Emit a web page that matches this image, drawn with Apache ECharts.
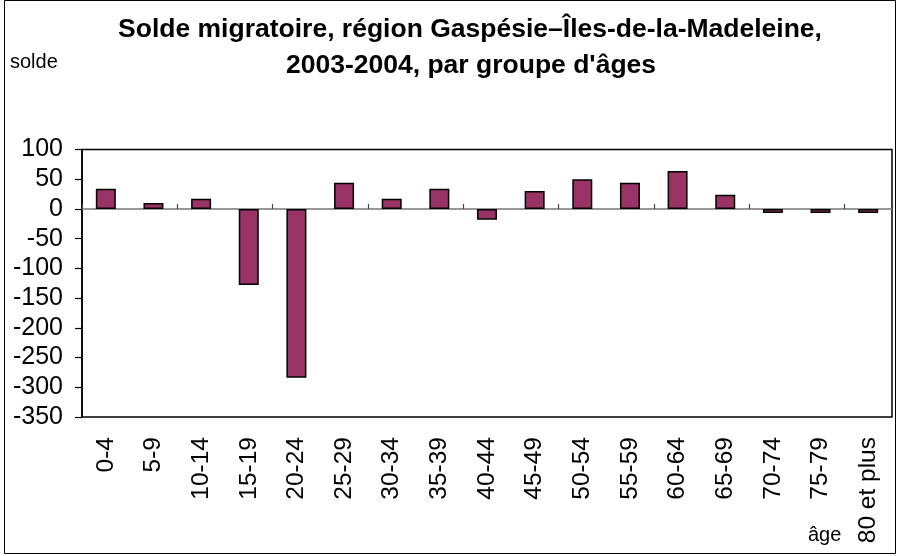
<!DOCTYPE html>
<html>
<head>
<meta charset="utf-8">
<script src="https://cdn.jsdelivr.net/npm/echarts@6/dist/echarts.min.js"></script>
<style>
  html, body { margin: 0; padding: 0; background: #fff; }
  #chart { width: 898px; height: 556px; }
</style>
</head>
<body>
<div id="chart"></div>
<script>
const categories = ['0-4', '5-9', '10-14', '15-19', '20-24', '25-29', '30-34', '35-39', '40-44',
  '45-49', '50-54', '55-59', '60-64', '65-69', '70-74', '75-79', '80 et plus']
const solde = [34, 10, 17, -128, -284, 44, 17, 34, -18, 30, 50, 44, 64, 24, -7, -7, -7]
const yMin = -350
const yMax = 100
const yStep = 50

const font = 'Arial, "Liberation Sans", sans-serif'
const chart = echarts.init(document.getElementById('chart'), null, { renderer: 'canvas' })

const option = {
  animation: false,
  backgroundColor: '#fff',
  graphic: [
    {
      type: 'rect',
      shape: { x: 4.5, y: 0.5, width: 891, height: 553 },
      style: { fill: 'none', stroke: '#000', lineWidth: 1 },
    },
    {
      type: 'text', x: 470, y: 30,
      style: {
        text: 'Solde migratoire, région Gaspésie–Îles-de-la-Madeleine,',
        font: 'bold 26.5px ' + font, fill: '#000', align: 'center', verticalAlign: 'middle',
      },
    },
    {
      type: 'text', x: 471, y: 66,
      style: {
        text: '2003-2004, par groupe d\'âges',
        font: 'bold 26.5px ' + font, fill: '#000', align: 'center', verticalAlign: 'middle',
      },
    },
    {
      type: 'text', x: 10, y: 62,
      style: { text: 'solde', font: '20px ' + font, fill: '#000', verticalAlign: 'middle' },
    },
    {
      type: 'text', x: 808, y: 535,
      style: { text: 'âge', font: '20px ' + font, fill: '#000', verticalAlign: 'middle' },
    },
  ],
  grid: { left: 82, right: 6, top: 149.5, bottom: 139, show: true, borderColor: '#000', borderWidth: 1.5 },
  xAxis: [
    {
      // labels along the bottom of the plot
      type: 'category',
      data: categories,
      position: 'bottom',
      axisLine: { onZero: false, show: false },
      axisTick: { show: false },
      axisLabel: {
        rotate: 90, margin: 20, fontSize: 24.5, fontFamily: font, color: '#000', interval: 0,
      },
    },
    {
      // zero line with ticks between categories
      type: 'category',
      data: categories,
      position: 'top',
      axisLine: { onZero: true, lineStyle: { color: '#777', width: 1.5 } },
      axisTick: { show: true, length: 5, lineStyle: { color: '#444', width: 1.2 } },
      axisLabel: { show: false },
    },
  ],
  yAxis: {
    type: 'value',
    min: yMin,
    max: yMax,
    interval: yStep,
    axisLine: { show: true, lineStyle: { color: '#000', width: 1.5 } },
    axisTick: { show: true, length: 7, lineStyle: { color: '#000', width: 1.2 } },
    axisLabel: { fontSize: 25, fontFamily: font, color: '#000', margin: 19 },
    splitLine: { show: false },
  },
  series: [
    {
      type: 'bar',
      data: solde,
      xAxisIndex: 0,
      barWidth: 20,
      z: 3,
      itemStyle: { color: '#993366', borderColor: '#000', borderWidth: 1.5 },
    },
  ],
}

chart.setOption(option)
</script>
</body>
</html>
